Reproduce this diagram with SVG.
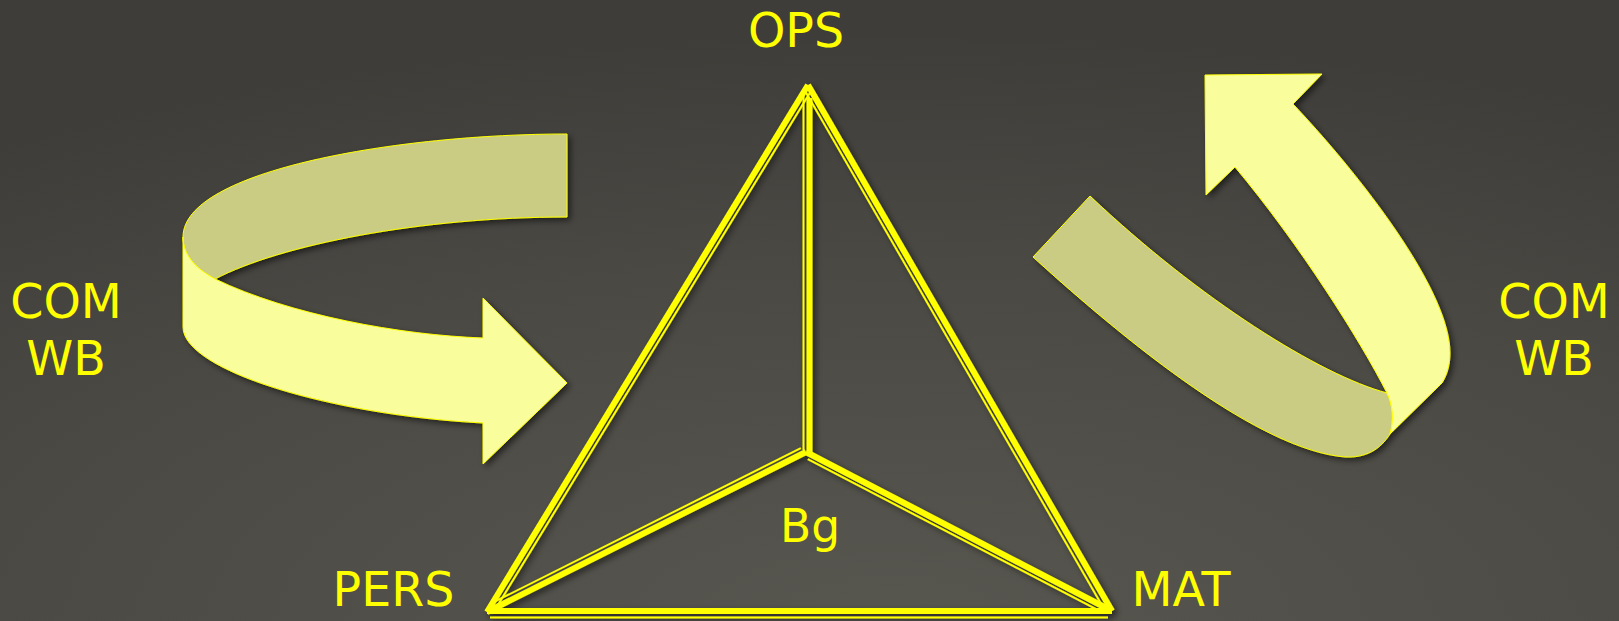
<svg xmlns="http://www.w3.org/2000/svg" width="1619" height="621" viewBox="0 0 1619 621">
  <defs>
    <radialGradient id="bg" cx="55%" cy="100%" r="95%" fx="55%" fy="100%">
      <stop offset="0" stop-color="#57564f"/>
      <stop offset="0.6" stop-color="#4a4944"/>
      <stop offset="1" stop-color="#3e3d39"/>
    </radialGradient>
    <filter id="shadow" x="-10%" y="-10%" width="130%" height="130%">
      <feDropShadow dx="3" dy="3" stdDeviation="3" flood-color="#000" flood-opacity="0.55"/>
    </filter>
  </defs>
  <style>
    .lbl { font-family: "DejaVu Sans", Verdana, sans-serif; font-size: 47.5px; fill: #ffff00; text-anchor: middle; }
    .thick { stroke: #ffff00; stroke-width: 6; fill: none; stroke-linecap: butt; }
    .thin { stroke: #ffff00; stroke-width: 2; fill: none; }
    .front { fill: #f9fd9b; stroke: #ffff00; stroke-width: 1; stroke-linejoin: miter; }
    .back { fill: #c9cc82; stroke: #ffff00; stroke-width: 1; }
  </style>

  <rect width="1619" height="621" fill="url(#bg)"/>

  <!-- curved ribbon arrow, left -->
  <g id="arrow-left" filter="url(#shadow)">
    <path class="back" d="M567,134 C400,134 183,170 183,237 C183,255 195,268 215,279 C280,245 420,217 567,217 Z"/>
    <path class="front" d="M183,237 C183,255 195,268 215,279 C290,315 400,335 483,338 L483,298 L567,383 L483,464 L483,423 C330,415 183,370 183,327 Z"/>
  </g>

  <!-- curved ribbon arrow, right -->
  <g id="arrow-right" filter="url(#shadow)">
    <path class="back" d="M1090,196 L1033,257 C1130,345 1260,450 1345,457 C1365,458 1380,450 1390,434 C1394,420 1393,405 1387,393 C1320,375 1200,300 1090,196 Z"/>
    <path class="front" d="M1387,393 C1360,340 1300,245 1235,167 L1206,195 L1205,75 L1322,74 L1293,104 C1360,175 1450,290 1450,353 C1450,365 1447,375 1442,383 L1390,434 C1394,420 1393,405 1387,393 Z"/>
  </g>

  <!-- pyramid edges: thick + thin double strokes -->
  <g id="connectors" filter="url(#shadow)">
    <!-- apex to PERS -->
    <line class="thick" x1="808" y1="85" x2="487" y2="612"/>
    <line class="thin" x1="810.2" y1="92.2" x2="498.2" y2="604.6"/>
    <!-- apex to MAT -->
    <line class="thick" x1="808" y1="85" x2="1112" y2="611"/>
    <line class="thin" x1="805.7" y1="92.1" x2="1103.2" y2="607.4"/>
    <!-- apex to Bg -->
    <line class="thick" x1="809.5" y1="98" x2="809.5" y2="452"/>
    <line class="thin" x1="803.5" y1="93" x2="803.5" y2="450"/>
    <!-- Bg to PERS -->
    <line class="thick" x1="806" y1="452" x2="487" y2="612"/>
    <line class="thin" x1="800.8" y1="448.2" x2="490.6" y2="603.7"/>
    <!-- Bg to MAT -->
    <line class="thick" x1="806" y1="452" x2="1112" y2="611"/>
    <line class="thin" x1="807.8" y1="459.2" x2="1100.5" y2="611.3"/>
    <!-- PERS to MAT -->
    <line class="thick" x1="487" y1="611" x2="1112" y2="611"/>
    <line class="thin" x1="490" y1="617.5" x2="1108" y2="617.5"/>
  </g>

  <g id="node-ops"><text class="lbl" x="796" y="47">OPS</text></g>
  <g id="node-pers"><text class="lbl" x="393.5" y="606">PERS</text></g>
  <g id="node-mat"><text class="lbl" x="1181" y="606">MAT</text></g>
  <g id="node-bg"><text class="lbl" x="810" y="542" style="font-size:45.5px">Bg</text></g>
  <g id="node-com-left"><text class="lbl" x="66" y="318">COM</text><text class="lbl" x="66" y="375">WB</text></g>
  <g id="node-com-right"><text class="lbl" x="1554" y="318">COM</text><text class="lbl" x="1554" y="375">WB</text></g>
</svg>
